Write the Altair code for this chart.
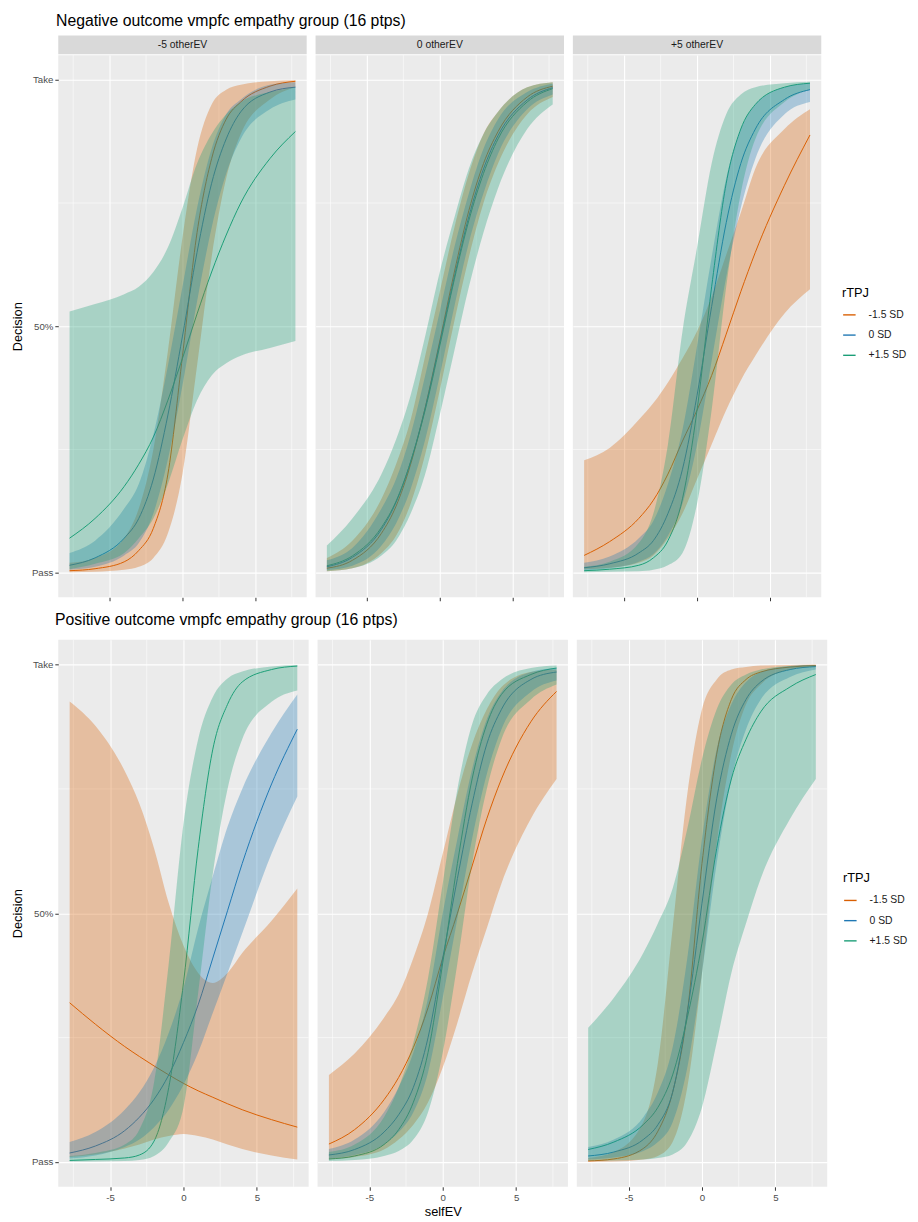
import altair as alt
import pandas as pd

# ---------------- data ----------------
X = [-7.75, -6, -4, -3, -2, -1, 0, 1, 2, 3, 4, 6, 7.75]
GROUPS = ["-1.5 SD", "0 SD", "+1.5 SD"]
COLORS = ["#D95F02", "#1F78B4", "#1B9E77"]
PANELS = ["-5 otherEV", "0 otherEV", "+5 otherEV"]
TITLE_NEG = "Negative outcome vmpfc empathy group (16 ptps)"
TITLE_POS = "Positive outcome vmpfc empathy group (16 ptps)"
Y_TICKS = [0, 0.5, 1]
Y_LABELS = ["Pass", "50%", "Take"]
X_TICKS = [-5, 0, 5]
X_MINOR = [-7.5, -2.5, 2.5, 7.5]
Y_MINOR = [0.25, 0.75]

# Negative outcome, -5 otherEV
neg_m5 = {
    "-1.5 SD": dict(fit=[0.004, 0.008, 0.022, 0.045, 0.09, 0.2, 0.44, 0.69, 0.84, 0.92, 0.955, 0.987, 0.997],
                    lo=[0.001, 0.002, 0.006, 0.012, 0.03, 0.08, 0.2, 0.42, 0.64, 0.8, 0.89, 0.96, 0.985],
                    hi=[0.02, 0.03, 0.07, 0.13, 0.25, 0.45, 0.68, 0.86, 0.95, 0.98, 0.99, 0.997, 0.999]),
    "0 SD": dict(fit=[0.015, 0.03, 0.07, 0.11, 0.19, 0.32, 0.48, 0.65, 0.79, 0.88, 0.935, 0.975, 0.985],
                 lo=[0.006, 0.012, 0.035, 0.06, 0.12, 0.23, 0.38, 0.55, 0.7, 0.81, 0.88, 0.94, 0.96],
                 hi=[0.04, 0.065, 0.13, 0.18, 0.28, 0.42, 0.58, 0.74, 0.86, 0.93, 0.96, 0.99, 0.995]),
    "+1.5 SD": dict(fit=[0.07, 0.11, 0.175, 0.22, 0.275, 0.35, 0.435, 0.525, 0.61, 0.685, 0.75, 0.84, 0.895],
                    lo=[0.007, 0.018, 0.04, 0.07, 0.11, 0.18, 0.27, 0.35, 0.4, 0.425, 0.44, 0.456, 0.47],
                    hi=[0.53, 0.545, 0.565, 0.58, 0.61, 0.66, 0.74, 0.83, 0.89, 0.93, 0.955, 0.975, 0.985]),
}
# Negative outcome, 0 otherEV
neg_0 = {
    "-1.5 SD": dict(fit=[0.009, 0.025, 0.08, 0.135, 0.22, 0.335, 0.47, 0.61, 0.735, 0.83, 0.895, 0.965, 0.987],
                    lo=[0.003, 0.009, 0.04, 0.075, 0.14, 0.24, 0.37, 0.51, 0.64, 0.75, 0.83, 0.93, 0.965],
                    hi=[0.03, 0.065, 0.15, 0.22, 0.31, 0.44, 0.57, 0.7, 0.81, 0.89, 0.935, 0.985, 0.995]),
    "0 SD": dict(fit=[0.012, 0.031, 0.088, 0.143, 0.225, 0.334, 0.466, 0.6, 0.723, 0.819, 0.887, 0.959, 0.984],
                 lo=[0.005, 0.014, 0.055, 0.1, 0.17, 0.27, 0.4, 0.54, 0.67, 0.77, 0.85, 0.94, 0.97],
                 hi=[0.025, 0.05, 0.13, 0.19, 0.28, 0.4, 0.53, 0.66, 0.77, 0.86, 0.92, 0.975, 0.992]),
    "+1.5 SD": dict(fit=[0.014, 0.034, 0.092, 0.145, 0.225, 0.33, 0.46, 0.595, 0.715, 0.81, 0.88, 0.955, 0.982],
                    lo=[0.003, 0.009, 0.035, 0.065, 0.12, 0.2, 0.32, 0.45, 0.58, 0.69, 0.78, 0.9, 0.95],
                    hi=[0.055, 0.11, 0.2, 0.27, 0.36, 0.48, 0.61, 0.72, 0.82, 0.89, 0.935, 0.985, 0.995]),
}
# Negative outcome, +5 otherEV
neg_p5 = {
    "-1.5 SD": dict(fit=[0.035, 0.063, 0.11, 0.147, 0.2, 0.267, 0.33, 0.4, 0.484, 0.57, 0.65, 0.786, 0.888],
                    lo=[0.007, 0.01, 0.02, 0.035, 0.07, 0.12, 0.19, 0.26, 0.33, 0.39, 0.44, 0.526, 0.575],
                    hi=[0.228, 0.253, 0.31, 0.344, 0.386, 0.435, 0.49, 0.56, 0.645, 0.73, 0.82, 0.9, 0.94]),
    "0 SD": dict(fit=[0.01, 0.018, 0.04, 0.065, 0.12, 0.21, 0.36, 0.54, 0.71, 0.83, 0.9, 0.96, 0.98],
                 lo=[0.005, 0.009, 0.022, 0.038, 0.075, 0.14, 0.26, 0.43, 0.6, 0.74, 0.84, 0.93, 0.955],
                 hi=[0.02, 0.033, 0.07, 0.105, 0.18, 0.29, 0.46, 0.64, 0.8, 0.9, 0.95, 0.985, 0.993]),
    "+1.5 SD": dict(fit=[0.004, 0.007, 0.015, 0.03, 0.065, 0.15, 0.33, 0.58, 0.79, 0.9, 0.95, 0.985, 0.993],
                    lo=[0.001, 0.002, 0.003, 0.006, 0.015, 0.04, 0.14, 0.33, 0.58, 0.77, 0.88, 0.955, 0.98],
                    hi=[0.012, 0.022, 0.06, 0.12, 0.26, 0.49, 0.66, 0.83, 0.93, 0.97, 0.985, 0.993, 0.996]),
}
# Positive outcome, -5 otherEV
pos_m5 = {
    "-1.5 SD": dict(fit=[0.32, 0.277, 0.232, 0.212, 0.193, 0.175, 0.158, 0.143, 0.13, 0.117, 0.105, 0.085, 0.07],
                    lo=[0.01, 0.015, 0.027, 0.035, 0.045, 0.052, 0.056, 0.052, 0.045, 0.035, 0.026, 0.013, 0.005],
                    hi=[0.926, 0.877, 0.786, 0.72, 0.63, 0.52, 0.435, 0.38, 0.36, 0.38, 0.42, 0.485, 0.55]),
    "0 SD": dict(fit=[0.018, 0.032, 0.063, 0.09, 0.126, 0.175, 0.24, 0.316, 0.41, 0.505, 0.6, 0.76, 0.87],
                 lo=[0.007, 0.013, 0.03, 0.045, 0.07, 0.105, 0.155, 0.22, 0.3, 0.38, 0.46, 0.62, 0.735],
                 hi=[0.04, 0.06, 0.105, 0.14, 0.19, 0.26, 0.35, 0.47, 0.575, 0.674, 0.75, 0.863, 0.94]),
    "+1.5 SD": dict(fit=[0.003, 0.005, 0.008, 0.014, 0.042, 0.15, 0.36, 0.63, 0.83, 0.92, 0.965, 0.99, 0.997],
                    lo=[0.001, 0.001, 0.002, 0.004, 0.012, 0.04, 0.11, 0.34, 0.58, 0.75, 0.85, 0.925, 0.948],
                    hi=[0.012, 0.018, 0.035, 0.065, 0.16, 0.4, 0.68, 0.85, 0.935, 0.972, 0.986, 0.996, 0.999]),
}
# Positive outcome, 0 otherEV
pos_0 = {
    "-1.5 SD": dict(fit=[0.036, 0.065, 0.125, 0.17, 0.23, 0.31, 0.41, 0.5, 0.595, 0.69, 0.77, 0.885, 0.946],
                    lo=[0.005, 0.01, 0.025, 0.045, 0.075, 0.12, 0.19, 0.28, 0.38, 0.47, 0.56, 0.69, 0.77],
                    hi=[0.175, 0.218, 0.29, 0.337, 0.41, 0.5, 0.62, 0.74, 0.84, 0.91, 0.955, 0.985, 0.99]),
    "0 SD": dict(fit=[0.014, 0.025, 0.06, 0.095, 0.15, 0.25, 0.41, 0.57, 0.72, 0.84, 0.91, 0.97, 0.985],
                 lo=[0.007, 0.014, 0.035, 0.06, 0.1, 0.18, 0.33, 0.49, 0.65, 0.78, 0.87, 0.945, 0.968],
                 hi=[0.026, 0.045, 0.1, 0.15, 0.22, 0.33, 0.5, 0.65, 0.79, 0.89, 0.945, 0.985, 0.993]),
    "+1.5 SD": dict(fit=[0.006, 0.012, 0.035, 0.065, 0.12, 0.22, 0.4, 0.6, 0.77, 0.88, 0.94, 0.98, 0.993],
                    lo=[0.002, 0.004, 0.012, 0.022, 0.045, 0.1, 0.22, 0.4, 0.6, 0.75, 0.85, 0.93, 0.96],
                    hi=[0.02, 0.035, 0.09, 0.15, 0.24, 0.37, 0.56, 0.75, 0.88, 0.94, 0.97, 0.993, 0.998]),
}
# Positive outcome, +5 otherEV
pos_p5 = {
    "-1.5 SD": dict(fit=[0.002, 0.006, 0.027, 0.062, 0.14, 0.3, 0.6, 0.82, 0.93, 0.97, 0.985, 0.995, 0.998],
                    lo=[0.0005, 0.001, 0.005, 0.012, 0.04, 0.15, 0.38, 0.64, 0.82, 0.92, 0.96, 0.99, 0.996],
                    hi=[0.008, 0.02, 0.08, 0.2, 0.47, 0.74, 0.91, 0.97, 0.99, 0.995, 0.998, 0.999, 1.0]),
    "0 SD": dict(fit=[0.012, 0.02, 0.045, 0.075, 0.14, 0.3, 0.52, 0.73, 0.86, 0.93, 0.965, 0.99, 0.996],
                 lo=[0.005, 0.009, 0.022, 0.04, 0.08, 0.19, 0.38, 0.6, 0.77, 0.87, 0.93, 0.975, 0.99],
                 hi=[0.03, 0.045, 0.09, 0.14, 0.23, 0.41, 0.65, 0.83, 0.92, 0.965, 0.985, 0.997, 0.999]),
    "+1.5 SD": dict(fit=[0.025, 0.04, 0.075, 0.11, 0.175, 0.29, 0.44, 0.63, 0.77, 0.85, 0.905, 0.955, 0.98],
                    lo=[0.002, 0.003, 0.005, 0.008, 0.015, 0.04, 0.11, 0.24, 0.38, 0.48, 0.57, 0.69, 0.77],
                    hi=[0.27, 0.33, 0.42, 0.48, 0.55, 0.67, 0.81, 0.91, 0.96, 0.98, 0.99, 0.997, 0.999]),
}


def to_frame(pdict):
    recs = []
    for g in GROUPS:
        d = pdict[g]
        for i, x in enumerate(X):
            recs.append({"group": g, "x": x, "fit": d["fit"][i], "lo": d["lo"][i], "hi": d["hi"][i]})
    return pd.DataFrame(recs)


FONT = "Liberation Sans"
XDOM = [-8.525, 8.525]
YDOM = [-0.05, 1.05]
Y_LABEL_EXPR = ("datum.value == 1 ? '%s' : (datum.value == 0.5 ? '%s' : '%s')"
                % (Y_LABELS[2], Y_LABELS[1], Y_LABELS[0]))

color_scale = alt.Scale(domain=GROUPS, range=COLORS)


def legend_def(lx, ly):
    return alt.Legend(title="rTPJ", orient="none", legendX=lx, legendY=ly,
                      symbolType="stroke", symbolSize=160, symbolStrokeWidth=1.4,
                      symbolOpacity=1,
                      titleFontSize=13, titleFontWeight="normal", titleColor="#000000",
                      titlePadding=8, labelFontSize=10.5, labelColor="#1A1A1A",
                      rowPadding=7.5, labelOffset=12)


def make_panel(pdict, width, height, first, bottom, mid, leg):
    df = to_frame(pdict)
    xaxis = alt.Axis(values=X_TICKS, labels=bottom, ticks=True, grid=True,
                     labelExpr="'' + datum.value", labelPadding=2,
                     title="selfEV" if (bottom and mid) else None)
    if first:
        yaxis = alt.Axis(values=Y_TICKS, labelExpr=Y_LABEL_EXPR, title="Decision",
                         grid=True, ticks=True, labelPadding=2, titlePadding=7)
    else:
        yaxis = alt.Axis(values=Y_TICKS, labels=False, ticks=False, grid=True, title=None)
    xs = alt.Scale(domain=XDOM, nice=False, zero=False)
    ys = alt.Scale(domain=YDOM, nice=False, zero=False)

    gx = alt.Chart(pd.DataFrame({"v": X_MINOR})).mark_rule(color="#FFFFFF", strokeWidth=0.55).encode(
        x=alt.X("v:Q", scale=xs, axis=xaxis))
    gy = alt.Chart(pd.DataFrame({"v": Y_MINOR})).mark_rule(color="#FFFFFF", strokeWidth=0.55).encode(
        y=alt.Y("v:Q", scale=ys, axis=yaxis))
    lines = alt.Chart(df).mark_line(strokeWidth=1.0, interpolate="monotone").encode(
        x=alt.X("x:Q", scale=xs, axis=xaxis),
        y=alt.Y("fit:Q", scale=ys, axis=yaxis),
        color=alt.Color("group:N", scale=color_scale, legend=leg),
        order=alt.Order("x:Q"),
    )
    ribbons = alt.Chart(df).mark_area(opacity=0.32, interpolate="monotone").encode(
        x=alt.X("x:Q", scale=xs, axis=xaxis),
        y=alt.Y("lo:Q", scale=ys, axis=yaxis),
        y2="hi:Q",
        color=alt.Color("group:N", scale=color_scale, legend=leg),
    )
    return alt.layer(gx, gy, lines, ribbons).properties(width=width, height=height)


def make_strip(label, width):
    return alt.Chart(pd.DataFrame({"label": [label]})).mark_text(
        fontSize=10.5, color="#1A1A1A", font=FONT, baseline="middle", align="center"
    ).encode(x=alt.value(width / 2), y=alt.value(9.5), text="label:N").properties(
        width=width, height=19, view=alt.ViewBackground(fill="#D9D9D9", stroke=None))


TW, TH = 252, 550
BW, BH = 254, 555

leg_top = legend_def(795, 255)
leg_bot = legend_def(796, 236)

top_panels = []
for i, pdict in enumerate([neg_m5, neg_0, neg_p5]):
    top_panels.append(alt.vconcat(make_strip(PANELS[i], TW),
                                  make_panel(pdict, TW, TH, i == 0, False, i == 1, leg_top),
                                  spacing=0))
top_row = alt.hconcat(*top_panels, spacing=7, title=alt.TitleParams(
    text=TITLE_NEG, anchor="start", fontSize=16, fontWeight="normal", color="#000000",
    font=FONT, offset=7, dx=45))

bot_panels = []
for i, pdict in enumerate([pos_m5, pos_0, pos_p5]):
    bot_panels.append(make_panel(pdict, BW, BH, i == 0, True, i == 1, leg_bot))
bot_row = alt.hconcat(*bot_panels, spacing=7, title=alt.TitleParams(
    text=TITLE_POS, anchor="start", fontSize=16, fontWeight="normal", color="#000000",
    font=FONT, offset=12, dx=44))

chart = alt.vconcat(top_row, bot_row, spacing=10).resolve_scale(color="independent").properties(
    padding={"left": 3, "top": -4, "right": 2, "bottom": 2}
).configure(font=FONT).configure_view(fill="#EBEBEB", stroke=None).configure_axis(
    domain=False, tickColor="#333333", tickSize=3.5, tickWidth=1,
    labelColor="#4D4D4D", labelFontSize=9.8, labelFont=FONT,
    titleFontSize=13, titleFontWeight="normal", titleColor="#000000", titleFont=FONT,
    gridColor="#FFFFFF", gridWidth=1.1
)

chart.save("out.html", embed_options={"renderer": "svg", "actions": False})
